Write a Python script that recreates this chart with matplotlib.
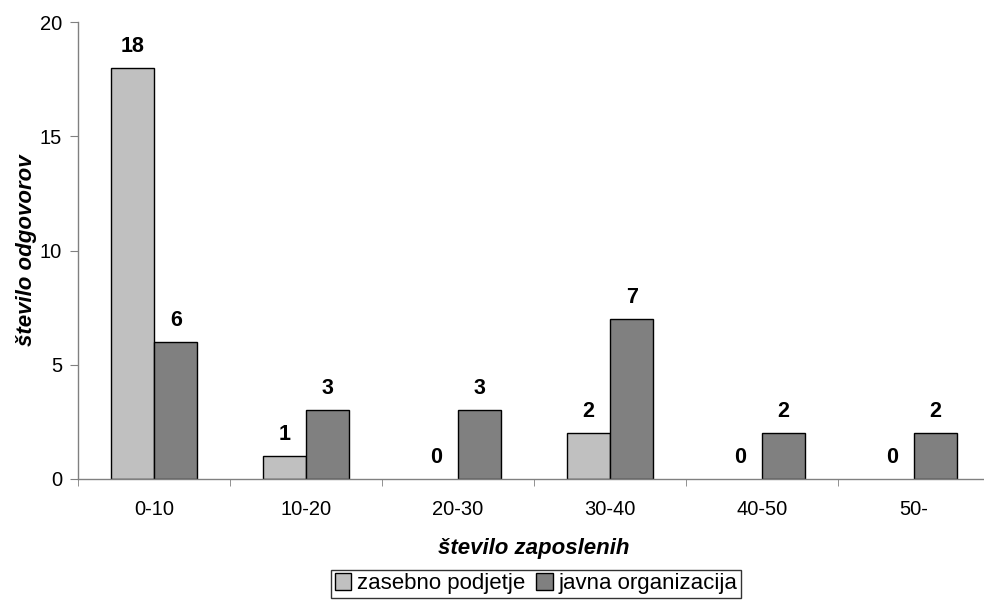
import matplotlib
matplotlib.use("Agg")
import matplotlib.pyplot as plt
import numpy as np

plt.rcParams['font.family'] = ['Liberation Sans', 'DejaVu Sans']

categories = ["0-10", "10-20", "20-30", "30-40", "40-50", "50-"]
zasebno = [18, 1, 0, 2, 0, 0]
javna = [6, 3, 3, 7, 2, 2]
series_names = ["zasebno podjetje", "javna organizacija"]
colors = ["#C0C0C0", "#808080"]

fig = plt.figure(figsize=(9.84, 6.0), dpi=100)
ax = fig.add_axes([78/984, 121/600, 912/984, 457/600])

x = np.arange(len(categories))
w = 0.286
b1 = ax.bar(x - w/2, zasebno, w, color=colors[0], edgecolor="black", linewidth=1.0,
            label=series_names[0])
b2 = ax.bar(x + w/2, javna, w, color=colors[1], edgecolor="black", linewidth=1.0,
            label=series_names[1])

for bars, vals in ((b1, zasebno), (b2, javna)):
    for rect, v in zip(bars, vals):
        if v == 0:
            rect.set_linewidth(0)
        ax.annotate(str(v), (rect.get_x() + rect.get_width()/2, v),
                    xytext=(0, 8), textcoords="offset points",
                    ha="center", va="bottom", fontsize=15.5, fontweight="bold")

ax.set_xlim(-0.5, len(categories) - 0.5)
ax.set_ylim(0, 20)
ax.set_yticks([0, 5, 10, 15, 20])
ax.set_xticks(x)
ax.set_xticklabels(categories)
ax.set_xticks(np.arange(len(categories) + 1) - 0.5, minor=True)
ax.tick_params(axis="x", which="major", length=0, pad=15, labelsize=14.5)
ax.tick_params(axis="x", which="minor", length=5, color="#808080", direction="out")
ax.tick_params(axis="y", length=6, color="#808080", labelsize=14.5, pad=5.5)

for s in ("top", "right"):
    ax.spines[s].set_visible(False)
for s in ("left", "bottom"):
    ax.spines[s].set_color("#808080")
    ax.spines[s].set_linewidth(1.0)

ax.set_xlabel("število zaposlenih", fontsize=16, fontweight="bold", style="italic",
              labelpad=14)
ax.set_ylabel("število odgovorov", fontsize=16, fontweight="bold", style="italic")
ax.yaxis.set_label_coords(-0.045, 0.5)

leg = fig.legend(handles=[b1, b2], loc="upper center", bbox_to_anchor=(536/984, 1 - 570/600),
                 ncol=2, fontsize=16, frameon=True, fancybox=False, edgecolor="black",
                 handlelength=0.75, handleheight=0.75, handletextpad=0.25, columnspacing=0.5,
                 borderpad=0.15, borderaxespad=0)
leg.get_frame().set_linewidth(1.0)

fig.savefig("out.png", dpi=100)
